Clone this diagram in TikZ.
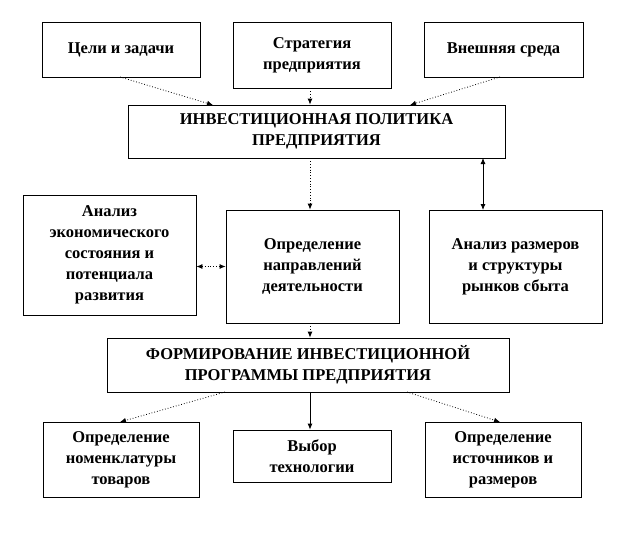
\documentclass[tikz,border=0pt]{standalone}
\usepackage{fontspec}
\setmainfont{Liberation Serif}
\usetikzlibrary{arrows.meta}
\begin{document}
\begin{tikzpicture}[x=1pt,y=-1pt,
  bx/.style={draw,thick,align=center,inner sep=0pt,font=\bfseries\fontsize{16.5}{21}\selectfont},
  ar/.style={-{Latex[length=6pt,width=5pt]},thick},
  dar/.style={ar,dotted}]
\useasboundingbox (0,0) rectangle (623,535);
\newcommand\bxat[6]{\node[bx,minimum width=#4-#2,minimum height=#5-#3] (#1) at ({(#2+#4)/2},{(#3+#5)/2}) {#6};}
\bxat{a}{42}{22}{200}{77}{Цели и задачи}
\bxat{b}{233}{22}{391}{88}{Стратегия\\предприятия}
\bxat{c}{424}{22}{583}{77}{Внешняя среда}
\bxat{ip}{128}{105}{505}{158}{ИНВЕСТИЦИОННАЯ ПОЛИТИКА\\ПРЕДПРИЯТИЯ}
\bxat{ae}{23}{195}{196}{315}{Анализ\\экономического\\состояния и\\потенциала\\развития}
\bxat{od}{226}{210}{399}{323}{Определение\\направлений\\деятельности}
\bxat{ar}{429}{210}{602}{323}{Анализ размеров\\и структуры\\рынков сбыта}
\bxat{fp}{107}{338}{509}{392}{ФОРМИРОВАНИЕ ИНВЕСТИЦИОННОЙ\\ПРОГРАММЫ ПРЕДПРИЯТИЯ}
\bxat{on}{43}{422}{199}{497}{Определение\\номенклатуры\\товаров}
\bxat{vt}{233}{430}{391}{482}{Выбор\\технологии}
\bxat{oi}{425}{422}{581}{497}{Определение\\источников и\\размеров}
\coordinate (ab) at (120,77); \coordinate (ipa) at (213,105);
\coordinate (cb) at (500,77); \coordinate (ipc) at (410,105);
\coordinate (ipr) at (483,158); \coordinate (art) at (483,210);
\coordinate (fl) at (225,392); \coordinate (onl) at (120,422);
\coordinate (fr) at (407,392); \coordinate (oir) at (500,422);
\coordinate (m) at (310,0);
\draw[dar] (ab) -- (ipa);
\draw[dar] (b.south-|m) -- (ip.north-|m);
\draw[dar] (cb) -- (ipc);
\draw[dar] (ip.south-|m) -- (od.north-|m);
\draw[ar,{Latex[length=6pt,width=5pt]}-{Latex[length=6pt,width=5pt]}] (ipr) -- (art);
\draw[dar,{Latex[length=6pt,width=5pt]}-{Latex[length=6pt,width=5pt]}] (ae.east|-od.west) -- (od.west);
\draw[dar] (od.south-|m) -- (fp.north-|m);
\draw[dar] (fl) -- (onl);
\draw[ar] (fp.south-|m) -- (vt.north-|m);
\draw[dar] (fr) -- (oir);
\end{tikzpicture}
\end{document}
